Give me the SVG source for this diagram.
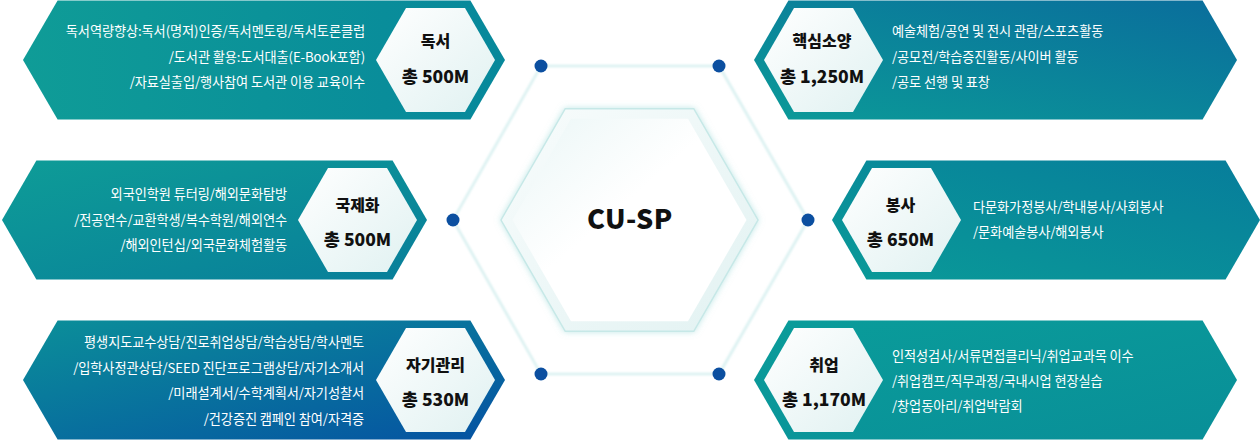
<svg xmlns="http://www.w3.org/2000/svg" width="1260" height="441" viewBox="0 0 1260 441">
<defs>
<linearGradient id="gB1" x1="0" y1="0" x2="1" y2="0"><stop offset="0" stop-color="#0f9c97"/><stop offset="1" stop-color="#07889b"/></linearGradient>
<linearGradient id="gB2" x1="0" y1="1" x2="1" y2="0"><stop offset="0" stop-color="#0b9a98"/><stop offset="1" stop-color="#0a6d9c"/></linearGradient>
<linearGradient id="gB3" x1="0" y1="0" x2="1" y2="1"><stop offset="0" stop-color="#0e9c97"/><stop offset="1" stop-color="#087e9a"/></linearGradient>
<linearGradient id="gB4" x1="0" y1="1" x2="1" y2="0"><stop offset="0" stop-color="#0a9a98"/><stop offset="1" stop-color="#077d9b"/></linearGradient>
<linearGradient id="gB5" x1="0" y1="0" x2="1" y2="1"><stop offset="0" stop-color="#0b8f99"/><stop offset="1" stop-color="#0552a2"/></linearGradient>
<linearGradient id="gB6" x1="0" y1="0" x2="1" y2="1"><stop offset="0" stop-color="#0a9c9a"/><stop offset="1" stop-color="#098f98"/></linearGradient>
<linearGradient id="gW" x1="0" y1="0" x2="1" y2="1"><stop offset="0" stop-color="#ffffff"/><stop offset="1" stop-color="#e0f1f1"/></linearGradient>
<linearGradient id="gCo" x1="0" y1="0" x2="1" y2="1"><stop offset="0" stop-color="#f8fcfc"/><stop offset="1" stop-color="#e2f2f2"/></linearGradient>
<linearGradient id="gCi" x1="0" y1="0" x2="1" y2="1"><stop offset="0" stop-color="#eaf6f6"/><stop offset="0.45" stop-color="#ffffff"/><stop offset="1" stop-color="#ffffff"/></linearGradient>
<filter id="glow" x="-10%" y="-10%" width="120%" height="120%"><feDropShadow dx="0" dy="0" stdDeviation="3" flood-color="#8fd3d2" flood-opacity="0.55"/></filter>
<filter id="soft" x="-5%" y="-5%" width="110%" height="110%"><feGaussianBlur stdDeviation="0.8"/></filter>
</defs>
<style>
.desc{font-family:"Noto Sans CJK KR","Noto Sans",sans-serif;font-size:13.2px;fill:#ffffff;letter-spacing:-0.1px}
.r{text-anchor:end}
.lab{font-family:"Noto Sans CJK KR","Noto Sans",sans-serif;font-size:16px;font-weight:900;fill:#111111;text-anchor:middle}
.amt{font-family:"Noto Sans CJK KR","Noto Sans",sans-serif;font-size:17.5px;font-weight:900;fill:#111111;text-anchor:middle}
.inner{fill:url(#gW)}
.link{stroke:#d8f0f0;stroke-width:2.5;fill:none;stroke-linejoin:round}
.dot{fill:#0b4fa0}
</style>
<rect width="1260" height="441" fill="#ffffff"/>
<g id="connectors">
<polygon class="link" filter="url(#soft)" points="541,66 719,66 808,220 719,374 541,374 453,220"/>
<circle class="dot" cx="541" cy="66" r="6.5"/>
<circle class="dot" cx="719" cy="66" r="6.5"/>
<circle class="dot" cx="808" cy="220" r="6.5"/>
<circle class="dot" cx="719" cy="374" r="6.5"/>
<circle class="dot" cx="541" cy="374" r="6.5"/>
<circle class="dot" cx="453" cy="220" r="6.5"/>
</g>
<g id="center">
<polygon points="501,220 565.25,108.7 693.75,108.7 758,220 693.75,331.3 565.25,331.3" fill="url(#gCo)" stroke="#c6e8e7" stroke-width="1.5" filter="url(#glow)"/>
<polygon points="512.5,220 571,118.7 688,118.7 746.5,220 688,321.3 571,321.3" fill="url(#gCi)"/>
<text x="630" y="229" font-family="'Noto Sans CJK KR','Noto Sans',sans-serif" font-size="27" font-weight="900" fill="#111111" text-anchor="middle" letter-spacing="0.5">CU-SP</text>
</g>
<g id="node-reading">
<polygon points="23,60 57.6,0.5 470.4,0.5 505,60 470.4,119.5 57.6,119.5" fill="url(#gB1)"/>
<polygon class="inner" points="376,60 406,8 465,8 495,60 465,112 406,112"/>
<text class="lab" x="435.5" y="47">독서</text>
<text class="amt" x="435.5" y="83">총 500M</text>
<text class="desc r" x="365" y="36">독서역량향상:독서(명저)인증/독서멘토링/독서토론클럽</text>
<text class="desc r" x="365" y="62">/도서관 활용:도서대출(E-Book포함)</text>
<text class="desc r" x="365" y="87">/자료실출입/행사참여 도서관 이용 교육이수</text>
</g>
<g id="node-core">
<polygon points="754,60 788.4,0.5 1202.6,0.5 1237,60 1202.6,119.5 788.4,119.5" fill="url(#gB2)"/>
<polygon class="inner" points="764,60 794,8 853,8 883,60 853,112 794,112"/>
<text class="lab" x="822" y="47">핵심소양</text>
<text class="amt" x="822" y="83">총 1,250M</text>
<text class="desc" x="892" y="36">예술체험/공연 및 전시 관람/스포츠활동</text>
<text class="desc" x="892" y="62">/공모전/학습증진활동/사이버 활동</text>
<text class="desc" x="892" y="87">/공로 선행 및 표창</text>
</g>
<g id="node-global">
<polygon points="2,220 36.4,160.5 392.6,160.5 427,220 392.6,279.5 36.4,279.5" fill="url(#gB3)"/>
<polygon class="inner" points="298,220 328,168 387,168 417,220 387,272 328,272"/>
<text class="lab" x="357.5" y="211">국제화</text>
<text class="amt" x="357.5" y="246">총 500M</text>
<text class="desc r" x="287" y="199">외국인학원 튜터링/해외문화탐방</text>
<text class="desc r" x="287" y="225">/전공연수/교환학생/복수학원/해외연수</text>
<text class="desc r" x="287" y="250">/해외인턴십/외국문화체험활동</text>
</g>
<g id="node-service">
<polygon points="832,220 866.4,160.5 1225.6,160.5 1260,220 1225.6,279.5 866.4,279.5" fill="url(#gB4)"/>
<polygon class="inner" points="842,220 872,168 931,168 961,220 931,272 872,272"/>
<text class="lab" x="900.5" y="211">봉사</text>
<text class="amt" x="900.5" y="246">총 650M</text>
<text class="desc" x="973" y="212">다문화가정봉사/학내봉사/사회봉사</text>
<text class="desc" x="973" y="237">/문화예술봉사/해외봉사</text>
</g>
<g id="node-self">
<polygon points="23,380 57.6,320.5 470.4,320.5 505,380 470.4,439.5 57.6,439.5" fill="url(#gB5)"/>
<polygon class="inner" points="376,380 406,328 465,328 495,380 465,432 406,432"/>
<text class="lab" x="435.5" y="371">자기관리</text>
<text class="amt" x="435.5" y="406">총 530M</text>
<text class="desc r" x="364" y="347">평생지도교수상담/진로취업상담/학습상담/학사멘토</text>
<text class="desc r" x="364" y="372.5">/입학사정관상담/SEED 진단프로그램상담/자기소개서</text>
<text class="desc r" x="364" y="398">/미래설계서/수학계획서/자기성찰서</text>
<text class="desc r" x="364" y="423.5">/건강증진 캠페인 참여/자격증</text>
</g>
<g id="node-career">
<polygon points="754,380 788.4,320.5 1202.6,320.5 1237,380 1202.6,439.5 788.4,439.5" fill="url(#gB6)"/>
<polygon class="inner" points="764,380 794,328 853,328 883,380 853,432 794,432"/>
<text class="lab" x="824" y="371">취업</text>
<text class="amt" x="824" y="406">총 1,170M</text>
<text class="desc" x="892" y="361">인적성검사/서류면접클리닉/취업교과목 이수</text>
<text class="desc" x="892" y="386">/취업캠프/직무과정/국내시업 현장실습</text>
<text class="desc" x="892" y="411">/창업동아리/취업박람회</text>
</g>
</svg>
